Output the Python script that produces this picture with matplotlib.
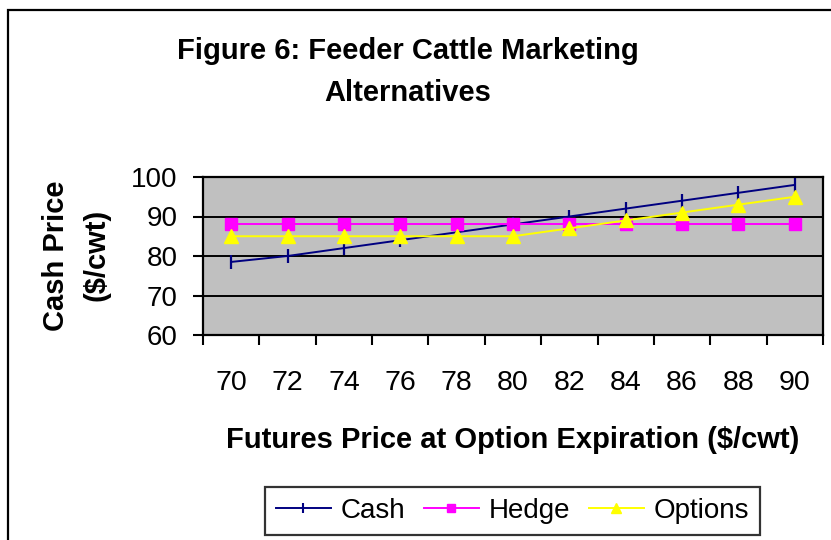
import matplotlib
matplotlib.use("Agg")
import matplotlib.pyplot as plt
from matplotlib.lines import Line2D
from matplotlib.patches import Rectangle
import numpy as np

plt.rcParams['font.family'] = ['Liberation Sans', 'DejaVu Sans']

futures = [70, 72, 74, 76, 78, 80, 82, 84, 86, 88, 90]
cash = [78.5, 80, 82, 84, 86, 88, 90, 92, 94, 96, 98]
hedge = [88, 88, 88, 88, 88, 88, 88, 88, 88, 88, 88]
options = [85, 85, 85, 85, 85, 85, 87, 89, 91, 93, 95]
series_names = ["Cash", "Hedge", "Options"]
yticks = [60, 70, 80, 90, 100]

W, H = 831, 540
fig = plt.figure(figsize=(W / 100, H / 100), dpi=100)
ax = fig.add_axes([203 / W, 1 - 335 / H, (823 - 203) / W, (335 - 177) / H])
ax.set_facecolor('#C0C0C0')

x = np.arange(len(futures))
ax.plot(x, cash, color='#000080', lw=1.4, marker='|', ms=9.5, mew=1.6, zorder=3)
ax.plot(x, hedge, color='#FF00FF', lw=1.4, marker='s', ms=9.3, mec='#FF00FF', zorder=4)
ax.plot(x, options, color='#FFFF00', lw=1.4, marker='^', ms=10.5, mec='#FFFF00', zorder=5)

ax.set_xlim(-0.5, len(futures) - 0.5)
ax.set_ylim(60, 100)
ax.set_yticks(yticks)
ax.set_yticklabels([str(v) for v in yticks], fontsize=20)
ax.set_xticks(x)
ax.set_xticklabels([str(v) for v in futures], fontsize=20.5)
ax.set_xticks(np.arange(-0.5, len(futures), 1.0), minor=True)
ax.tick_params(axis='x', which='major', length=0, pad=25)
ax.tick_params(axis='x', which='minor', length=7.2, width=1.5, direction='out')
ax.tick_params(axis='y', which='major', length=7.2, width=1.5, direction='out', pad=11)
for s in ax.spines.values():
    s.set_linewidth(1.6)
    s.set_color('black')
for v in yticks[1:-1]:
    ax.axhline(v, color='black', lw=1.4, zorder=1)

# Axis labels
fig.text(513 / W, 1 - 440 / H, "Futures Price at Option Expiration ($/cwt)",
         ha='center', va='center', fontsize=21, fontweight='bold')
fig.text(56 / W, 1 - 256 / H, "Cash Price", rotation=90, ha='center', va='center',
         fontsize=21, fontweight='bold')
fig.text(97 / W, 1 - 255 / H, "($/cwt)", rotation=90, ha='center', va='center',
         fontsize=21, fontweight='bold')

# Title
fig.text(408 / W, 1 - 51 / H, "Figure 6: Feeder Cattle Marketing", ha='center', va='center',
         fontsize=21, fontweight='bold')
fig.text(408 / W, 1 - 93 / H, "Alternatives", ha='center', va='center',
         fontsize=21, fontweight='bold')

# Outer border
fig.patches.append(Rectangle((8 / W, -0.1), 1.0, (H - 10) / H + 0.1, transform=fig.transFigure,
                             fill=False, edgecolor='black', lw=1.6))

handles = [
    Line2D([], [], color='#000080', lw=1.4, marker='|', ms=7, mew=1.5),
    Line2D([], [], color='#FF00FF', lw=1.4, marker='s', ms=6, mec='#FF00FF'),
    Line2D([], [], color='#FFFF00', lw=1.4, marker='^', ms=7, mec='#FFFF00'),
]
leg = fig.legend(handles, series_names, loc='center', bbox_to_anchor=(512.5 / W, 1 - 511 / H),
                 ncol=3, fontsize=20, frameon=True, fancybox=False, shadow=False,
                 handlelength=2.0, handletextpad=0.35, columnspacing=0.65,
                 borderpad=0.4, borderaxespad=0)
leg.get_frame().set_edgecolor('black')
leg.get_frame().set_linewidth(1.6)

fig.savefig("out.png", dpi=100)
